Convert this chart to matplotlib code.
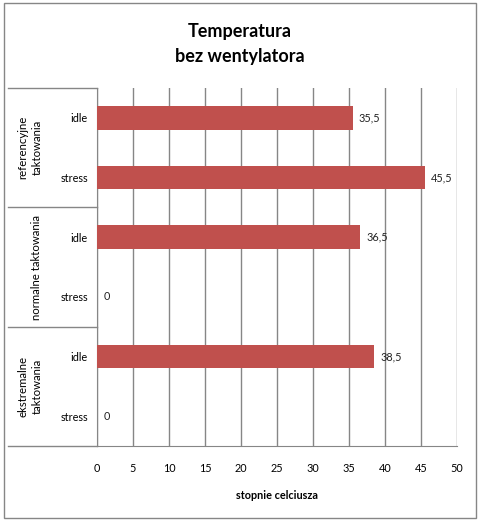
import matplotlib
matplotlib.use('Agg')
import matplotlib.pyplot as plt
from matplotlib.patches import Rectangle

plt.rcParams['font.family'] = ['Lato', 'DejaVu Sans']

# dane
grupy = ['referencyjne\ntaktowania', 'normalne taktowania', 'ekstremalne\ntaktowania']
kategorie = ['idle', 'stress', 'idle', 'stress', 'idle', 'stress']
temperatury = [35.5, 45.5, 36.5, 0, 38.5, 0]
osie_x = [0, 5, 10, 15, 20, 25, 30, 35, 40, 45, 50]

kolor = '#C0504D'
szary = '#868686'

fig = plt.figure(figsize=(4.8, 5.21), dpi=100)
ax = fig.add_axes([97/480, 1 - 446/521, 360/480, 358/521])

pozycje = list(range(len(kategorie)))
ax.barh(pozycje, temperatury, height=0.4, color=kolor, zorder=3)

for p, t in zip(pozycje, temperatury):
    ax.annotate(f'{t:g}'.replace('.', ','), (t, p), xytext=(4.5, 0),
                textcoords='offset points', va='center', ha='left',
                fontsize=7.8, color='#222222')

ax.set_xlim(0, 50)
ax.set_ylim(5.5, -0.5)
ax.set_xticks(osie_x)
ax.set_xticklabels([str(v) for v in osie_x], fontsize=7.8)
ax.set_yticks(pozycje)
ax.set_yticklabels(kategorie, fontsize=7.8)
ax.tick_params(axis='both', length=0)
ax.tick_params(axis='y', pad=6.5)
ax.tick_params(axis='x', pad=12)

ax.grid(axis='x', color=szary, linewidth=1, zorder=0)
for s in ['top', 'right']:
    ax.spines[s].set_visible(False)
for s in ['left', 'bottom']:
    ax.spines[s].set_color(szary)

ax.set_xlabel('stopnie celciusza', fontsize=7.8, fontweight='bold', labelpad=12)

# podzial kategorii
tr = ax.get_yaxis_transform()
for y in [-0.5, 1.5, 3.5, 5.5]:
    ax.plot([-89/360, 0], [y, y], color=szary, linewidth=1, transform=tr,
            clip_on=False)

x_grup = [-67/360, -61/360, -67/360]
for i, (g, xg) in enumerate(zip(grupy, x_grup)):
    ax.text(xg, 2 * i + 0.5, g, rotation=90, ha='center', va='center',
            fontsize=8.2, transform=tr, multialignment='center',
            linespacing=1.35)

fig.text(0.5, 1 - 44/521, 'Temperatura\nbez wentylatora', ha='center',
         va='center', fontsize=13, fontweight='bold', linespacing=1.55)

fig.patches.append(Rectangle((3.5/480, 3/521), 472/480, 515/521,
                             transform=fig.transFigure, fill=False,
                             edgecolor=szary, linewidth=1))

fig.savefig('out.png', dpi=100)
